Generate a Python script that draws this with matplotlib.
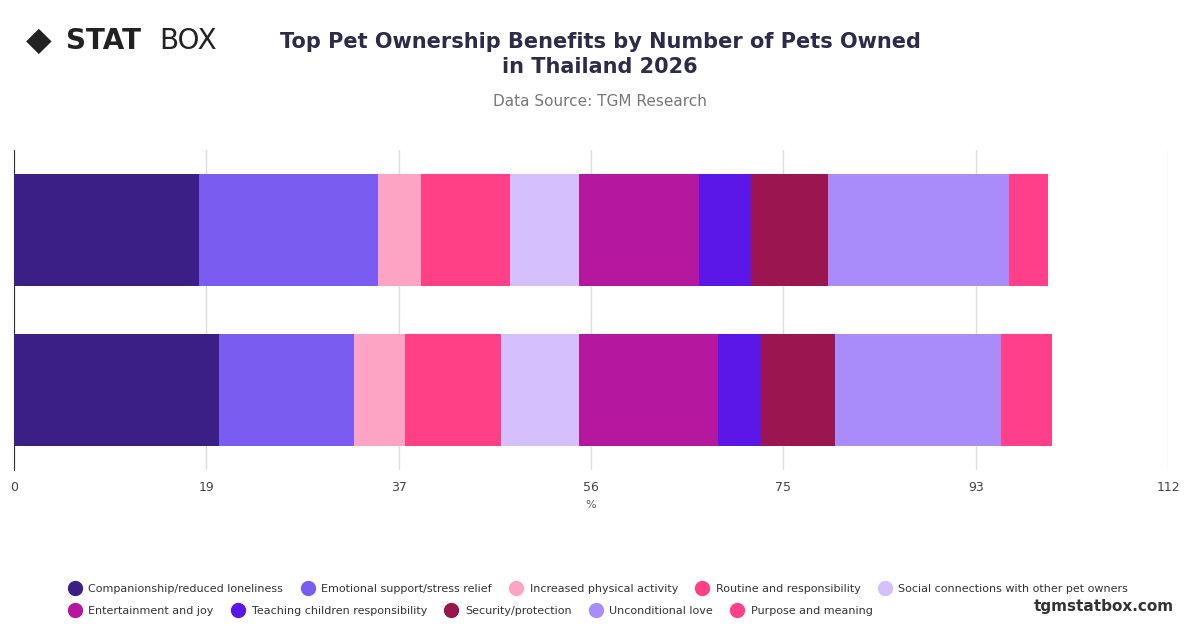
import matplotlib
matplotlib.use('Agg')
import matplotlib.pyplot as plt
from matplotlib.lines import Line2D
import numpy as np

# data
groups = ['1 pet', '2+ pets']
benefits = ['Companionship/reduced loneliness', 'Emotional support/stress relief',
            'Increased physical activity', 'Routine and responsibility',
            'Social connections with other pet owners', 'Entertainment and joy',
            'Teaching children responsibility', 'Security/protection',
            'Unconditional love', 'Purpose and meaning']
values_1 = [18.0, 17.3, 4.2, 8.6, 6.7, 11.7, 5.0, 7.5, 17.6, 3.8]
values_2 = [19.9, 13.1, 4.9, 9.4, 7.5, 13.5, 4.2, 7.2, 16.1, 4.9]
colors = ['#3b1f86', '#7b5cf0', '#fda4c4', '#ff3f86', '#d5bffc',
          '#b5179e', '#5b16e8', '#9b1550', '#a98bfa', '#ff3f8a']
ticks = [0, 19, 37, 56, 75, 93, 112]

fig = plt.figure(figsize=(12, 6.28), dpi=100)
ax = fig.add_axes([14/1200, 1-470/628, 1154/1200, 320/628])

data = np.array([values_1, values_2])
ypos = [1, 0]
left = np.zeros(2)
for i, name in enumerate(benefits):
    ax.barh(ypos, data[:, i], left=left, height=0.7, color=colors[i], label=name, zorder=3)
    left += data[:, i]

ax.set_xlim(0, 112)
ax.set_ylim(-0.5, 1.5)
ax.set_xticks(np.linspace(0, 112, 7))
ax.set_xticklabels([str(t) for t in ticks], fontsize=9, color='#444444')
ax.set_yticks([])
ax.grid(axis='x', color='#dddddd', lw=1, zorder=0)
for s in ['top', 'right']:
    ax.spines[s].set_visible(False)
ax.spines['bottom'].set_visible(False)
ax.spines['left'].set_color('#333333')
ax.tick_params(axis='x', length=0, pad=8)
ax.set_xlabel('%', fontsize=8, color='#555555', labelpad=4)

fig.text(0.5, 0.913, 'Top Pet Ownership Benefits by Number of Pets Owned\nin Thailand 2026',
         ha='center', va='center', fontsize=15, fontweight='bold', color='#2d2a4a', linespacing=1.35)
fig.text(0.5, 0.838, 'Data Source: TGM Research', ha='center', va='center', fontsize=11, color='#777777')
fig.text(0.022, 0.935, '◆', fontsize=24, color='#222222', va='center')
fig.text(0.055, 0.935, 'STAT', fontsize=20, fontweight='bold', color='#222222', va='center')
fig.text(0.133, 0.935, 'BOX', fontsize=20, color='#222222', va='center')
fig.text(0.978, 0.035, 'tgmstatbox.com', ha='right', va='center', fontsize=11,
         fontweight='bold', color='#333333')

handles = [Line2D([], [], marker='o', ls='', ms=10, color=c) for c in colors]
ax.legend(handles[:5], benefits[:5], loc='center left', bbox_to_anchor=(0.045, 0.062),
          bbox_transform=fig.transFigure, ncol=5, frameon=False, fontsize=8,
          handletextpad=0.2, columnspacing=1.2, labelcolor='#333333')
fig.legend(handles[5:], benefits[5:], loc='center left', bbox_to_anchor=(0.045, 0.027),
           ncol=5, frameon=False, fontsize=8, handletextpad=0.2, columnspacing=1.2,
           labelcolor='#333333')

fig.savefig('out.png', dpi=100)
